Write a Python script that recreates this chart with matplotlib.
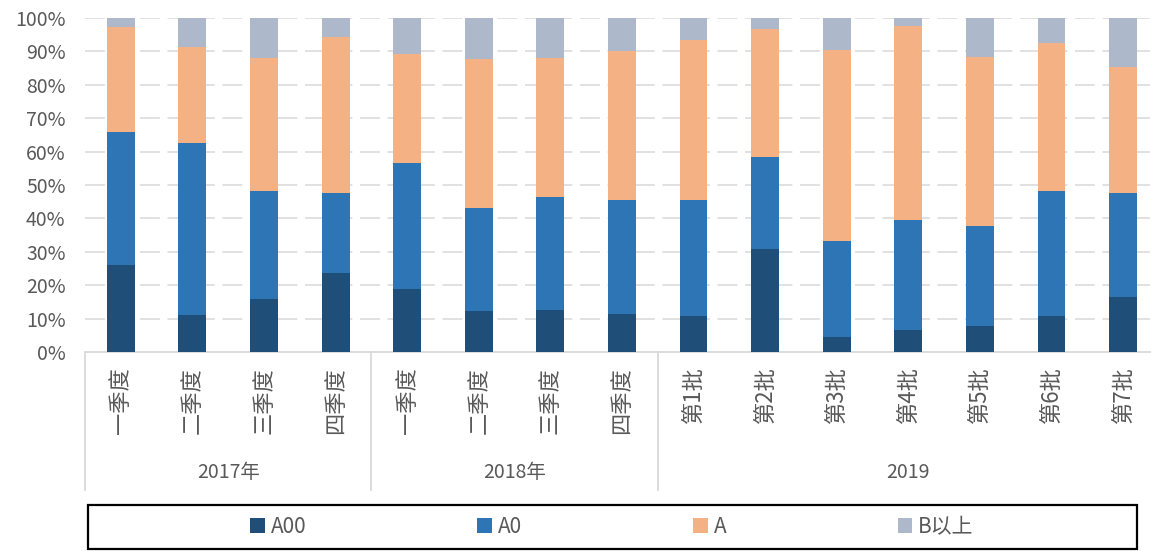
import matplotlib.pyplot as plt
from matplotlib.patches import Rectangle
import matplotlib.transforms as mtransforms
import numpy as np

plt.rcParams['font.family'] = ['Noto Sans CJK SC', 'DejaVu Sans']

# 类别与分组
categories = ['一季度', '二季度', '三季度', '四季度',
              '一季度', '二季度', '三季度', '四季度',
              '第1批', '第2批', '第3批', '第4批', '第5批', '第6批', '第7批']
groups = ['2017年', '2018年', '2019']
group_sizes = [4, 4, 7]

series_names = ['A00', 'A0', 'A', 'B以上']
# 各级别占比 (%)
a00 = [26.0, 11.2, 15.8, 23.8, 18.8, 12.3, 12.7, 11.5,
       10.8, 30.8, 4.5, 6.5, 7.7, 10.8, 16.6]
a0 = [40.0, 51.5, 32.3, 23.9, 37.7, 30.7, 33.8, 33.9,
      34.6, 27.7, 28.6, 33.1, 30.0, 37.3, 31.1]
a = [31.3, 28.5, 40.0, 46.5, 32.8, 44.7, 41.6, 44.6,
     48.0, 38.1, 57.3, 58.1, 50.7, 44.3, 37.7]
b_up = [100 - x - y - z for x, y, z in zip(a00, a0, a)]

colors = ['#1F4E79', '#2E75B6', '#F4B183', '#ADB9CA']
gray_text = '#595959'
grid_c = '#D9D9D9'

fig = plt.figure(figsize=(11.51, 5.51), dpi=100)
W, H = 1151, 551
ax = fig.add_axes([85 / W, 1 - 352 / H, 1 - 85 / W, (352 - 18) / H])

x = np.arange(len(categories))
bottom = np.zeros(len(categories))
for vals, c, name in zip([a00, a0, a, b_up], colors, series_names):
    ax.bar(x, vals, width=0.39, bottom=bottom, color=c, label=name, zorder=3)
    bottom += np.array(vals)

ax.set_xlim(-0.5, 14.39)
ax.set_ylim(0, 100)
ax.set_yticks(range(0, 101, 10))
ax.set_yticklabels([f'{v}%' for v in range(0, 101, 10)], color=gray_text, fontsize=14)
ax.tick_params(axis='y', length=0, pad=14)
for v in range(10, 101, 10):
    ax.axhline(v, color=grid_c, lw=1.1, dashes=(13, 5), zorder=1)
for s in ['top', 'right', 'left']:
    ax.spines[s].set_visible(False)
ax.spines['bottom'].set_color(grid_c)
ax.spines['bottom'].set_linewidth(1.3)

ax.set_xticks(x)
ax.set_xticklabels(categories, rotation=90, fontsize=16, color=gray_text, va='top')
ax.tick_params(axis='x', length=0, pad=11)

# 分组分隔线和年份
trans = mtransforms.blended_transform_factory(ax.transData, ax.transAxes)
ax_h = (352 - 18)
sep_bottom = -(490 - 352) / ax_h
year_y = -(473 - 352) / ax_h
start = 0
edges = [-0.5]
for g, n in zip(groups, group_sizes):
    center = start + (n - 1) / 2
    ax.text(center, year_y, g, transform=trans, ha='center', va='center',
            fontsize=14, color=gray_text)
    start += n
    edges.append(start - 0.5)
for e in edges:
    ax.plot([e, e], [0, sep_bottom], transform=trans, color=grid_c, lw=1.3,
            clip_on=False)

# 图例
fig.patches.append(Rectangle((88 / W, 2 / H), (1137 - 88) / W, (549 - 505) / H,
                             transform=fig.transFigure, fill=False,
                             edgecolor='black', lw=1.6))
handles, labels = ax.get_legend_handles_labels()
fig.legend(handles, labels, loc='center', bbox_to_anchor=(612 / W, 1 - 527 / H),
           ncol=4, frameon=False, fontsize=15, handlelength=0.7, handleheight=0.7,
           handletextpad=0.3, columnspacing=8.2, labelcolor=gray_text)

fig.savefig('out.png', dpi=100)
